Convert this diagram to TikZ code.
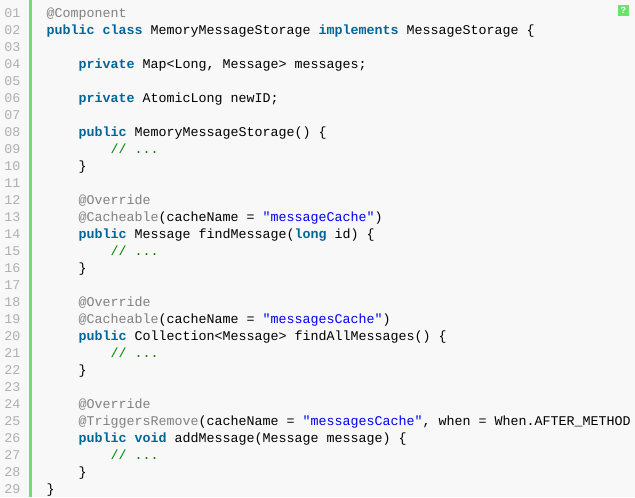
\documentclass[tikz,border=0pt]{standalone}
\usepackage{fontspec}
\setmonofont{Liberation Mono}
\definecolor{bgcol}{HTML}{F8F8F8}
\definecolor{barcol}{HTML}{6CE26C}
\definecolor{kwcol}{HTML}{006699}
\definecolor{ancol}{HTML}{808080}
\definecolor{stcol}{HTML}{0000FF}
\definecolor{cmcol}{HTML}{008200}
\definecolor{nocol}{HTML}{AFAFAF}
\newcommand\kw[1]{\textcolor{kwcol}{\bfseries #1}}
\newcommand\an[1]{\textcolor{ancol}{#1}}
\newcommand\st[1]{\textcolor{stcol}{"#1"}}
\newcommand\cm{\textcolor{cmcol}{// ...}}
\tikzset{code/.style={anchor=base west, inner sep=0pt, outer sep=0pt,
         font=\ttfamily\fontsize{10pt}{12pt}\selectfont},
         lineno/.style={code, text=nocol},
         gutter/.style={barcol, line width=2.25pt}}

\begin{document}
\begin{tikzpicture}[x=0.75pt, y=-0.75pt]
    \fill[bgcol] (0,0) rectangle (635,497);
    \useasboundingbox (0,0) rectangle (635,497);

    \coordinate (bartop) at (30.5,0);
    \coordinate (barbot) at (30.5,497);
    \draw[gutter] (bartop) -- (barbot);

    \foreach \i in {1,...,29}
      \node[lineno] (n\i) at (4.5,17*\i+0.5) {\ifnum\i<10 0\fi\i};

    \node[fill=barcol, text=white, inner sep=0pt, minimum width=8pt, minimum height=8pt,
          font=\ttfamily\bfseries\fontsize{7pt}{7pt}\selectfont] (help) at (623.3,10.3) {?};

    \begin{scope}
    \clip (0,0) rectangle (630,497);
    \node[code] (l01) at (46.5,17.5)  {\an{@Component}};
    \node[code] (l02) at (46.5,34.5)  {\kw{public} \kw{class} MemoryMessageStorage \kw{implements} MessageStorage \{};
    \node[code] (l04) at (78.5,68.5)  {\kw{private} Map<Long, Message> messages;};
    \node[code] (l06) at (78.5,102.5) {\kw{private} AtomicLong newID;};
    \node[code] (l08) at (78.5,136.5) {\kw{public} MemoryMessageStorage() \{};
    \node[code] (l09) at (110.5,153.5) {\cm};
    \node[code] (l10) at (78.5,170.5) {\}};
    \node[code] (l12) at (78.5,204.5) {\an{@Override}};
    \node[code] (l13) at (78.5,221.5) {\an{@Cacheable}(cacheName = \st{messageCache})};
    \node[code] (l14) at (78.5,238.5) {\kw{public} Message findMessage(\kw{long} id) \{};
    \node[code] (l15) at (110.5,255.5) {\cm};
    \node[code] (l16) at (78.5,272.5) {\}};
    \node[code] (l18) at (78.5,306.5) {\an{@Override}};
    \node[code] (l19) at (78.5,323.5) {\an{@Cacheable}(cacheName = \st{messagesCache})};
    \node[code] (l20) at (78.5,340.5) {\kw{public} Collection<Message> findAllMessages() \{};
    \node[code] (l21) at (110.5,357.5) {\cm};
    \node[code] (l22) at (78.5,374.5) {\}};
    \node[code] (l24) at (78.5,408.5) {\an{@Override}};
    \node[code] (l25) at (78.5,425.5) {\an{@TriggersRemove}(cacheName = \st{messagesCache}, when = When.AFTER\_METHOD};
    \node[code] (l26) at (78.5,442.5) {\kw{public} \kw{void} addMessage(Message message) \{};
    \node[code] (l27) at (110.5,459.5) {\cm};
    \node[code] (l28) at (78.5,476.5) {\}};
    \node[code] (l29) at (46.5,493.5) {\}};
    \end{scope}
\end{tikzpicture}
\end{document}
